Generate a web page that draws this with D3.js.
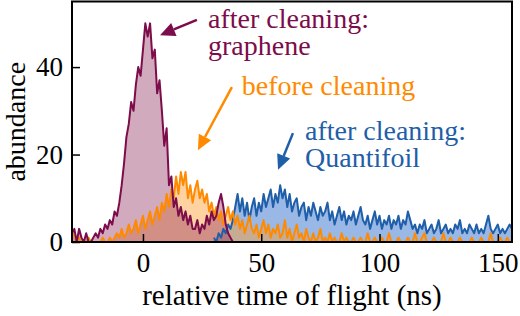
<!DOCTYPE html>
<html>
<head>
<meta charset="utf-8">
<script src="https://cdn.jsdelivr.net/npm/d3@7"></script>
<style>
body { margin: 0; background: #fff; }
</style>
</head>
<body>
<svg width="520" height="316"></svg>
<script>
// time of flight bins are 1 ns wide; each series lists counts starting at its first bin
var grapheneStart = -30;
var grapheneCounts = [
    2, 3, 0, 3, 1, 0, 2, 0, 0, 1,
    2, 1, 3, 2, 4, 3, 5, 4, 7, 6,
    9, 13, 18, 24, 27, 32, 30, 36, 40, 38,
    44, 50, 47, 50, 42, 44, 34, 37, 30, 22,
    26, 13, 15, 8, 10, 6, 8, 5, 7, 4,
    6, 3, 3, 5, 2, 4, 3, 6, 4, 7,
    5, 6, 9, 11, 8, 4, 2, 1, 0, 0, 0
];

var beforeStart = -30;
var beforeCounts = [
    1, 2, 0, 1, 0, 0, 0, 1, 0, 0,
    0, 0, 0, 1, 0, 0, 1, 0, 1, 2,
    1, 3, 1, 2, 4, 2, 3, 5, 2, 4,
    6, 3, 5, 7, 4, 6, 8, 5, 9, 7,
    11, 8, 12, 10, 15, 11, 16, 13, 16, 10,
    13, 9, 12, 14, 10, 12, 9, 11, 7, 9,
    6, 8, 5, 7, 4, 6, 8, 5, 7, 4,
    6, 3, 5, 2, 4, 6, 3, 2, 4, 1,
    3, 5, 2, 4, 1, 3, 2, 4, 1, 2,
    5, 1, 3, 0, 2, 4, 1, 2, 0, 3,
    1, 0, 2, 0, 1, 3, 0, 1, 0, 2,
    0, 1, 0, 0, 2, 0, 1, 0, 0, 1,
    0, 0, 1, 0, 0, 2, 0, 0, 1, 0,
    0, 1, 0, 0, 2, 0, 0, 0, 1, 0,
    0, 0, 1, 0, 0, 2, 0, 0, 1, 2,
    0, 0, 0, 1, 0, 0, 0, 2, 0, 0,
    1, 0, 0, 0, 1, 0, 0, 0, 0, 1,
    0, 0, 0, 1, 0, 0, 0, 2, 0, 0,
    0, 1, 0, 0, 1, 0
];

var quantifoilStart = 30;
var quantifoilCounts = [
    1, 0, 2, 1, 3, 2, 4, 3, 5, 8,
    11, 7, 10, 6, 9, 5, 8, 10, 6, 9,
    7, 11, 8, 10, 12, 8, 11, 9, 13, 10,
    12, 8, 11, 7, 9, 10, 6, 8, 9, 5,
    8, 6, 9, 7, 5, 8, 6, 7, 9, 5,
    7, 4, 6, 8, 5, 7, 4, 6, 5, 7,
    4, 6, 8, 5, 4, 6, 3, 5, 7, 4,
    6, 3, 5, 4, 6, 3, 5, 4, 6, 3,
    5, 4, 7, 5, 3, 4, 2, 4, 3, 5,
    2, 3, 4, 2, 3, 5, 2, 3, 4, 2,
    3, 2, 4, 3, 5, 2, 3, 2, 4, 3,
    2, 4, 2, 3, 2, 4, 6, 3, 2, 3,
    4, 2, 3, 2, 3, 4, 3
];

var xMajorTicks = [0, 50, 100, 150];
var yMajorTicks = [0, 20, 40];

var serif = '"Liberation Serif"';

var svg = d3.select('svg').attr('font-family', 'Liberation Serif');

var plot = {l: 72, r: 512, t: 1.5, b: 242};

var xScale = d3.scaleLinear().domain([-30, 156]).range([plot.l, plot.r]);
var yScale = d3.scaleLinear().domain([0, 55]).range([plot.b, plot.t]);

function toPoints(start, counts) {
    return counts.map(function(n, i) { return {t: start + i, n: n}; });
}

var series = [
    {name: 'quantifoil', data: toPoints(quantifoilStart, quantifoilCounts),
        line: '#1f5ea8', fill: '#7fa6de', fillOpacity: 0.8},
    {name: 'before', data: toPoints(beforeStart, beforeCounts),
        line: '#ff8a00', fill: '#ff9d2e', fillOpacity: 0.45},
    {name: 'graphene', data: toPoints(grapheneStart, grapheneCounts),
        line: '#7c0c4a', fill: '#8c2a5c', fillOpacity: 0.4}
];

svg.append('clipPath').attr('id', 'plotClip')
    .append('rect')
    .attr('x', plot.l).attr('y', plot.t)
    .attr('width', plot.r - plot.l).attr('height', plot.b - plot.t);

var area = d3.area()
    .x(function(d) { return xScale(d.t); })
    .y0(yScale(0))
    .y1(function(d) { return yScale(d.n); });

var line = d3.line()
    .x(function(d) { return xScale(d.t); })
    .y(function(d) { return yScale(d.n); });

var dataG = svg.append('g').attr('clip-path', 'url(#plotClip)');

series.forEach(function(s) {
    dataG.append('path')
        .attr('d', area(s.data))
        .attr('fill', s.fill)
        .attr('fill-opacity', s.fillOpacity);
});
series.forEach(function(s) {
    dataG.append('path')
        .attr('d', line(s.data))
        .attr('fill', 'none')
        .attr('stroke', s.line)
        .attr('stroke-width', 2)
        .attr('stroke-linejoin', 'round');
});

// axes: ticks point inward, minor every 10
var xAxisG = svg.append('g').attr('transform', 'translate(0,' + plot.b + ')');
xAxisG.call(d3.axisBottom(xScale).tickValues(d3.range(-30, 157, 10)).tickSize(-4).tickFormat(''));
xAxisG.call(d3.axisBottom(xScale).tickValues(xMajorTicks).tickSize(-8).tickPadding(11));

var yAxisG = svg.append('g').attr('transform', 'translate(' + plot.l + ',0)');
yAxisG.call(d3.axisLeft(yScale).tickValues(d3.range(0, 56, 10)).tickSize(-4).tickFormat(''));
yAxisG.call(d3.axisLeft(yScale).tickValues(yMajorTicks).tickSize(-8).tickPadding(9));

svg.selectAll('.domain').remove();
svg.selectAll('.tick line').attr('stroke', '#000').attr('stroke-width', 1.5);
xAxisG.attr('font-family', null);
yAxisG.attr('font-family', null);
svg.selectAll('.tick text')
    .attr('fill', '#000')
    .style('font-family', serif)
    .style('font-size', '27px');

svg.append('rect')
    .attr('x', plot.l).attr('y', plot.t)
    .attr('width', plot.r - plot.l).attr('height', plot.b - plot.t)
    .attr('fill', 'none').attr('stroke', '#000').attr('stroke-width', 2);

svg.append('text')
    .attr('x', (plot.l + plot.r) / 2)
    .attr('y', 305)
    .attr('text-anchor', 'middle')
    .style('font-family', serif)
    .style('font-size', '29px')
    .text('relative time of flight (ns)');

svg.append('text')
    .attr('transform', 'translate(25,' + ((plot.t + plot.b) / 2) + ') rotate(-90)')
    .attr('text-anchor', 'middle')
    .style('font-family', serif)
    .style('font-size', '28px')
    .text('abundance');

// annotations, placed in data units
var notes = [
    {color: '#7c0c4a', lines: ['after cleaning:', 'graphene'], at: [27.5, 48.9], from: [22.8, 50.8], to: [7.2, 47.3]},
    {color: '#ff8a00', lines: ['before cleaning'], at: [41.8, 33.6], from: [37.6, 35.4], to: [23.2, 21]},
    {color: '#1f5ea8', lines: ['after cleaning:', 'Quantifoil'], at: [68.5, 23.3], from: [63.4, 24.9], to: [57.1, 16.5]}
];

notes.forEach(function(n) {
    var t = svg.append('text')
        .attr('fill', n.color)
        .style('font-family', serif)
        .style('font-size', '28px');
    n.lines.forEach(function(s, i) {
        t.append('tspan')
            .attr('x', xScale(n.at[0]))
            .attr('y', yScale(n.at[1]) + i * 27)
            .text(s);
    });

    var x0 = xScale(n.from[0]), y0 = yScale(n.from[1]);
    var x1 = xScale(n.to[0]), y1 = yScale(n.to[1]);
    var ang = Math.atan2(y1 - y0, x1 - x0);
    var len = 15, half = 7;
    var bx = x1 - len * Math.cos(ang), by = y1 - len * Math.sin(ang);
    svg.append('line')
        .attr('x1', x0).attr('y1', y0)
        .attr('x2', bx).attr('y2', by)
        .attr('stroke', n.color).attr('stroke-width', 2.5);
    var head = [
        [x1, y1],
        [bx + half * Math.sin(ang), by - half * Math.cos(ang)],
        [bx - half * Math.sin(ang), by + half * Math.cos(ang)]
    ];
    svg.append('path')
        .attr('d', 'M' + head.join('L') + 'Z')
        .attr('fill', n.color);
});
</script>
</body>
</html>
